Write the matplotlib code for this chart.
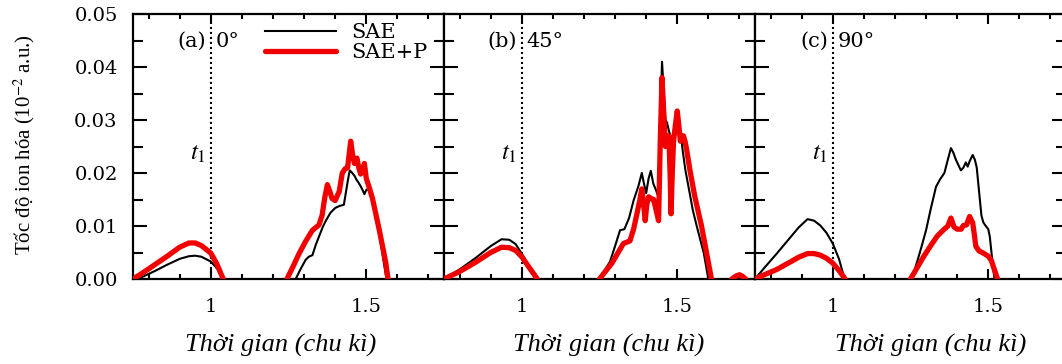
import matplotlib
matplotlib.use('Agg')
import matplotlib.pyplot as plt
from matplotlib.ticker import MultipleLocator, FixedLocator

plt.rcParams['mathtext.fontset'] = 'stix'

# ---------------- data ----------------
panel_labels = ['(a)', '(b)', '(c)']
angle_labels = ['0°', '45°', '90°']
series_names = ['SAE', 'SAE+P']
x_label = 'Thời gian (chu kì)'
y_label = 'Tốc độ ion hóa (10$^{-2}$ a.u.)'
x_ticks = [1.0, 1.5]
x_ticklabels = ['1', '1.5']
y_ticks = [0.00, 0.01, 0.02, 0.03, 0.04, 0.05]
y_ticklabels = ['0.00', '0.01', '0.02', '0.03', '0.04', '0.05']

# Panel (a) 0 deg
a_sae_x1 = [0.75, 0.76, 0.78, 0.82, 0.86, 0.90, 0.93, 0.95, 0.97, 1.00, 1.02, 1.04]
a_sae_y1 = [0.0, 0.0001, 0.0004, 0.0015, 0.0027, 0.0038, 0.0043, 0.0044, 0.0042, 0.0033, 0.0020, 0.0]
a_sap_x1 = [0.75, 0.78, 0.82, 0.86, 0.90, 0.93, 0.95, 0.97, 1.00, 1.02, 1.04]
a_sap_y1 = [0.0, 0.0011, 0.0027, 0.0043, 0.0060, 0.0068, 0.0068, 0.0063, 0.0049, 0.0028, 0.0]
a_sae_x2 = [1.273, 1.29, 1.305, 1.315, 1.327, 1.338, 1.348, 1.36, 1.37, 1.385, 1.40, 1.415,
            1.428, 1.435, 1.442, 1.447, 1.455, 1.462, 1.468, 1.475, 1.482, 1.488, 1.494,
            1.50, 1.505, 1.51, 1.52, 1.535, 1.55, 1.565]
a_sae_y2 = [0.0, 0.002, 0.0036, 0.0042, 0.0045, 0.0065, 0.008, 0.0098, 0.011, 0.0125, 0.0134,
            0.0138, 0.014, 0.0165, 0.019, 0.0205, 0.020, 0.0195, 0.0188, 0.0182, 0.0175,
            0.0168, 0.016, 0.0168, 0.017, 0.0165, 0.0145, 0.011, 0.0055, 0.0]
a_sap_x2 = [1.245, 1.265, 1.284, 1.305, 1.327, 1.348, 1.358, 1.367, 1.375, 1.383, 1.39, 1.40,
            1.413, 1.423, 1.432, 1.44, 1.45, 1.456, 1.462, 1.47, 1.476, 1.482, 1.488, 1.494,
            1.50, 1.51, 1.52, 1.53, 1.542, 1.553, 1.563, 1.57]
a_sap_y2 = [0.0, 0.0024, 0.0048, 0.0071, 0.0092, 0.0102, 0.012, 0.0155, 0.0178, 0.0165, 0.0152,
            0.0148, 0.0165, 0.020, 0.0208, 0.021, 0.026, 0.0235, 0.0218, 0.0228, 0.021, 0.0198,
            0.0205, 0.0218, 0.019, 0.0172, 0.0152, 0.0125, 0.0092, 0.006, 0.003, 0.0]

# Panel (b) 45 deg
b_sae_x1 = [0.75, 0.80, 0.85, 0.90, 0.935, 0.96, 0.98, 1.00, 1.02, 1.047]
b_sae_y1 = [0.0, 0.0018, 0.0039, 0.0062, 0.0075, 0.0074, 0.0066, 0.0048, 0.0028, 0.0]
b_sap_x1 = [0.75, 0.80, 0.85, 0.90, 0.935, 0.96, 0.98, 1.00, 1.02, 1.05]
b_sap_y1 = [0.0, 0.0014, 0.0031, 0.0050, 0.0060, 0.0059, 0.0054, 0.0042, 0.0025, 0.0]
b_sae_x2 = [1.246, 1.265, 1.284, 1.30, 1.316, 1.33, 1.345, 1.36, 1.375, 1.386, 1.393, 1.40,
            1.408, 1.415, 1.423, 1.43, 1.44, 1.445, 1.451, 1.457, 1.462, 1.467, 1.473, 1.478,
            1.484, 1.49, 1.50, 1.51, 1.518, 1.526, 1.54, 1.55, 1.563, 1.575, 1.585, 1.60]
b_sae_y2 = [0.0, 0.0015, 0.0033, 0.0062, 0.0092, 0.0094, 0.0115, 0.0149, 0.0175, 0.020, 0.018,
            0.0162, 0.019, 0.0204, 0.018, 0.017, 0.0155, 0.028, 0.041, 0.035, 0.030, 0.0295,
            0.028, 0.027, 0.0265, 0.028, 0.029, 0.028, 0.024, 0.0206, 0.0162, 0.013, 0.0099,
            0.0072, 0.005, 0.0]
b_sap_x2 = [1.25, 1.27, 1.29, 1.31, 1.327, 1.34, 1.348, 1.36, 1.37, 1.38, 1.386, 1.392, 1.397,
            1.402, 1.408, 1.416, 1.424, 1.432, 1.44, 1.445, 1.451, 1.456, 1.462, 1.467, 1.473,
            1.477, 1.48, 1.484, 1.488, 1.494, 1.50, 1.505, 1.51, 1.515, 1.52, 1.525, 1.53,
            1.54, 1.556, 1.578, 1.594, 1.61]
b_sap_y2 = [0.0, 0.0015, 0.003, 0.005, 0.0067, 0.007, 0.0072, 0.0095, 0.0122, 0.015, 0.017,
            0.014, 0.011, 0.014, 0.0155, 0.0152, 0.015, 0.013, 0.011, 0.025, 0.038, 0.032,
            0.025, 0.027, 0.027, 0.020, 0.0123, 0.020, 0.026, 0.029, 0.0317, 0.029, 0.026,
            0.027, 0.027, 0.026, 0.0245, 0.0208, 0.0157, 0.010, 0.005, 0.0]
b_sap_x3 = [1.675, 1.69, 1.70, 1.71, 1.72]
b_sap_y3 = [0.0, 0.0006, 0.0008, 0.0005, 0.0]

# Panel (c) 90 deg
c_sae_x1 = [0.75, 0.78, 0.82, 0.86, 0.89, 0.919, 0.94, 0.96, 0.98, 1.00, 1.02, 1.038]
c_sae_y1 = [0.0, 0.0021, 0.0048, 0.0076, 0.0097, 0.0113, 0.0110, 0.0101, 0.0087, 0.0067, 0.0038, 0.0]
c_sap_x1 = [0.75, 0.78, 0.82, 0.86, 0.89, 0.919, 0.94, 0.96, 0.98, 1.00, 1.02, 1.04]
c_sap_y1 = [0.0, 0.0008, 0.0018, 0.0031, 0.0041, 0.0048, 0.0048, 0.0045, 0.0039, 0.0030, 0.0016, 0.0]
c_sae_x2 = [1.254, 1.27, 1.285, 1.30, 1.315, 1.332, 1.345, 1.359, 1.37, 1.38, 1.388, 1.396,
            1.404, 1.412, 1.42, 1.428, 1.434, 1.44, 1.45, 1.457, 1.463, 1.468, 1.473, 1.478,
            1.484, 1.492, 1.50, 1.505, 1.51, 1.515, 1.52]
c_sae_y2 = [0.0, 0.003, 0.006, 0.0092, 0.0132, 0.0174, 0.0188, 0.020, 0.0225, 0.0247, 0.0238,
            0.0225, 0.0215, 0.0205, 0.021, 0.022, 0.0212, 0.0222, 0.0234, 0.0225, 0.021, 0.018,
            0.015, 0.012, 0.0107, 0.010, 0.0094, 0.008, 0.0052, 0.0025, 0.0]
c_sap_x2 = [1.25, 1.27, 1.293, 1.315, 1.336, 1.355, 1.37, 1.38, 1.39, 1.40, 1.413, 1.42, 1.43,
            1.44, 1.45, 1.455, 1.46, 1.47, 1.484, 1.50, 1.51, 1.516, 1.523, 1.53]
c_sap_y2 = [0.0, 0.002, 0.0043, 0.0063, 0.0081, 0.0092, 0.010, 0.0115, 0.0098, 0.0094, 0.0094,
            0.0101, 0.0102, 0.0118, 0.0106, 0.0085, 0.0062, 0.0053, 0.0049, 0.0043, 0.0035,
            0.0024, 0.0012, 0.0]

t1_pos = 1.0
sae_segments = [
    [(a_sae_x1, a_sae_y1), (a_sae_x2, a_sae_y2)],
    [(b_sae_x1, b_sae_y1), (b_sae_x2, b_sae_y2)],
    [(c_sae_x1, c_sae_y1), (c_sae_x2, c_sae_y2)],
]
sap_segments = [
    [(a_sap_x1, a_sap_y1), (a_sap_x2, a_sap_y2)],
    [(b_sap_x1, b_sap_y1), (b_sap_x2, b_sap_y2), (b_sap_x3, b_sap_y3)],
    [(c_sap_x1, c_sap_y1), (c_sap_x2, c_sap_y2)],
]

# ---------------- figure ----------------
W, H = 1062, 364
fig = plt.figure(figsize=(W / 100, H / 100), dpi=100)

lefts_px = [133, 444, 755]
width_px = 311
top_px, bottom_px = 14, 279
xlabel_centers_px = [281, 609, 931]

tick_font = dict(family='DejaVu Serif', size=14)
red = '#f20000'

for i in range(3):
    ax = fig.add_axes([lefts_px[i] / W, 1 - bottom_px / H, width_px / W,
                       (bottom_px - top_px) / H])
    ax.set_xlim(0.75, 1.75)
    ax.set_ylim(0.0, 0.05)

    for k, (xs, ys) in enumerate(sae_segments[i]):
        ax.plot(xs, ys, color='black', lw=1.5, solid_joinstyle='round',
                label=series_names[0] if k == 0 else None, zorder=3)
    for k, (xs, ys) in enumerate(sap_segments[i]):
        ax.plot(xs, ys, color=red, lw=3.8, solid_joinstyle='round',
                solid_capstyle='round',
                label=series_names[1] if k == 0 else None, zorder=4)

    ax.axvline(t1_pos, color='black', lw=1.5, ls=(0, (1, 1.4)), zorder=2)

    ax.text(t1_pos - 0.016, 0.0449, panel_labels[i], ha='right', va='center',
            family='DejaVu Serif', fontsize=15)
    ax.text(t1_pos + 0.016, 0.0449, angle_labels[i], ha='left', va='center',
            family='DejaVu Serif', fontsize=15)
    ax.text(t1_pos - 0.014, 0.0238, '$t_1$', ha='right', va='center', fontsize=18)

    for sp in ax.spines.values():
        sp.set_linewidth(1.6)

    ax.xaxis.set_major_locator(FixedLocator(x_ticks))
    ax.xaxis.set_minor_locator(MultipleLocator(0.1))
    ax.yaxis.set_major_locator(FixedLocator(y_ticks))
    ax.yaxis.set_minor_locator(MultipleLocator(0.005))
    ax.set_xticklabels(x_ticklabels, fontdict=tick_font)
    ax.set_yticklabels(y_ticklabels, fontdict=tick_font)

    ax.tick_params(which='both', direction='in', top=True, right=True, width=1.5)
    ax.tick_params(axis='x', which='major', length=7, pad=14)
    ax.tick_params(axis='x', which='minor', length=3.5)
    ax.tick_params(axis='y', which='major', length=10, pad=11)
    ax.tick_params(axis='y', which='minor', length=7)
    if i > 0:
        ax.tick_params(labelleft=False)

    fig.text(xlabel_centers_px[i] / W, 1 - 352 / H, x_label, ha='center',
             va='baseline', family='Liberation Serif', style='italic', fontsize=19)

    if i == 0:
        ax.legend(loc='upper left', bbox_to_anchor=(0.426, 0.965), frameon=False,
                  prop=dict(family='DejaVu Serif', size=15), handlelength=3.4,
                  handletextpad=0.7, labelspacing=0.05, borderpad=0,
                  borderaxespad=0)

fig.text(24 / W, 1 - 145 / H, y_label, rotation=90, ha='center', va='center',
         family='Liberation Serif', fontsize=15)

fig.savefig('out.png', dpi=100)
